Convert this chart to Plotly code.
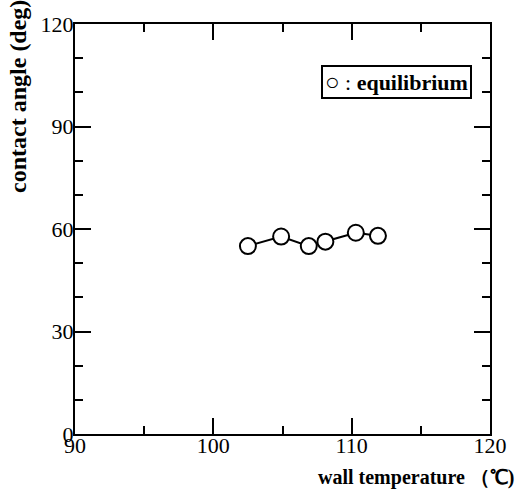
import plotly.graph_objects as go

# data
wall_temp = [102.5, 104.9, 106.9, 108.1, 110.3, 111.9]
contact_angle = [55.0, 57.8, 55.0, 56.3, 58.9, 58.0]

x_ticks = [90, 100, 110, 120]
y_ticks = [0, 30, 60, 90, 120]

serif = "Liberation Serif, Times New Roman, serif"

fig = go.Figure()
fig.add_trace(go.Scatter(
    x=wall_temp, y=contact_angle, mode="lines+markers",
    line=dict(color="black", width=2),
    marker=dict(symbol="circle", size=16, color="white",
                line=dict(color="black", width=2)),
    showlegend=False,
))

axis_common = dict(
    showline=True, linecolor="black", linewidth=2, mirror="ticks",
    ticks="inside", ticklen=16, tickwidth=2, tickcolor="black",
    showgrid=False, zeroline=False,
    tickfont=dict(family=serif, size=22, color="black"),
)

fig.update_xaxes(range=[90, 120], tickvals=x_ticks, ticklabelstandoff=-9,
                 minor=dict(ticks="inside", ticklen=8, tickwidth=2, dtick=5, tickcolor="black", showgrid=False),
                 **axis_common)
fig.update_yaxes(range=[0, 120], tickvals=y_ticks, ticklabelstandoff=-5,
                 minor=dict(ticks="inside", ticklen=8, tickwidth=2, dtick=10, tickcolor="black", showgrid=False),
                 **axis_common)

L, R, T, B = 75, 27, 22, 59
W, H = 519, 493
pw, ph = W - L - R, H - T - B

def px_x(px):
    return (px - L) / pw

def px_y(py):
    return (H - B - py) / ph

fig.add_annotation(
    text="<b>contact angle (deg)</b>", textangle=-90,
    xref="paper", yref="paper", x=px_x(17), y=px_y(95),
    xanchor="center", yanchor="middle", showarrow=False,
    font=dict(family=serif, size=24, color="black"),
)
fig.add_annotation(
    text="<b>wall temperature （℃)</b>",
    xref="paper", yref="paper", x=px_x(518), y=px_y(478),
    xanchor="right", yanchor="middle", showarrow=False,
    font=dict(family=serif, size=20, color="black"),
)
fig.add_annotation(
    text="<span style='font-size:24px'>○</span> : <b>equilibrium</b>",
    xref="paper", yref="paper", x=px_x(398), y=px_y(80),
    xanchor="center", yanchor="middle", showarrow=False,
    font=dict(family=serif, size=22, color="black"),
    bordercolor="black", borderwidth=2, borderpad=2, bgcolor="white",
)

fig.update_layout(
    width=W, height=H,
    margin=dict(l=L, r=R, t=T, b=B),
    plot_bgcolor="white", paper_bgcolor="white",
)

fig.write_html("out.html")
